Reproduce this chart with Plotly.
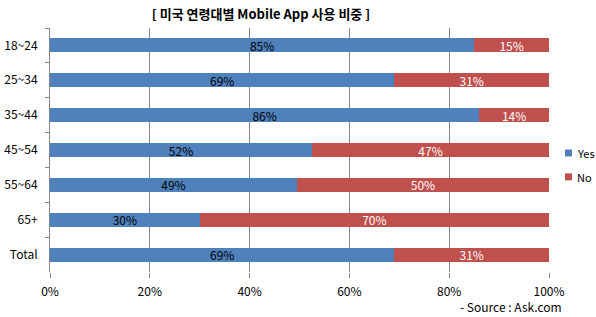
import plotly.graph_objects as go

categories = ["18~24", "25~34", "35~44", "45~54", "55~64", "65+", "Total"]
yes_vals = [85, 69, 86, 52, 49, 30, 69]
no_vals = [15, 31, 14, 47, 50, 70, 31]
series_names = ["Yes", "No"]
x_ticks = [0, 20, 40, 60, 80, 100]
x_tick_labels = ["0%", "20%", "40%", "60%", "80%", "100%"]

FONT = "Noto Sans CJK KR"
BLUE = "#4F81BD"
RED = "#C0504D"
colors = [BLUE, RED]

fig = go.Figure()
fig.add_trace(go.Bar(
    y=categories, x=yes_vals, name=series_names[0], orientation="h",
    marker=dict(color=BLUE, line=dict(width=0)),
    text=[f"{v}%" for v in yes_vals], textposition="inside",
    insidetextanchor="middle", textangle=0,
    textfont=dict(family=FONT, size=12, color="#000000"),
))
fig.add_trace(go.Bar(
    y=categories, x=no_vals, name=series_names[1], orientation="h",
    marker=dict(color=RED, line=dict(width=0)),
    text=[f"{v}%" for v in no_vals], textposition="inside",
    insidetextanchor="middle", textangle=0,
    textfont=dict(family=FONT, size=12, color="#FFFFFF"),
))

# custom compact legend (Excel style): small squares + labels
W, H = 596, 317
shapes = []
annotations = []
legend_y = [153, 177]
for nm, col, yc in zip(series_names, colors, legend_y):
    shapes.append(dict(type="rect", xref="paper", yref="paper",
                       x0=(565 - 50) / 499, x1=(572 - 50) / 499,
                       y0=(272.5 - (yc + 3.5)) / 245, y1=(272.5 - (yc - 3.5)) / 245,
                       fillcolor=col, line=dict(width=0)))
    annotations.append(dict(text=nm, xref="paper", yref="paper",
                            x=(575 - 50) / 499, y=(272.5 - yc) / 245,
                            xanchor="left", yanchor="middle", showarrow=False,
                            font=dict(family=FONT, size=11, color="#000000")))

annotations.append(dict(text="- Source : Ask.com", xref="paper", yref="paper",
                        x=(564 - 50) / 499, y=-(307 - 272.5) / 245,
                        xanchor="right", yanchor="middle", showarrow=False,
                        font=dict(family=FONT, size=12, color="#000000")))

fig.update_layout(
    width=W, height=H,
    margin=dict(l=50, r=47, t=27.5, b=44.5, autoexpand=False),
    barmode="stack", barnorm="percent", bargap=0.6,
    plot_bgcolor="white", paper_bgcolor="white",
    font=dict(family=FONT, size=12, color="#000000"),
    uniformtext=dict(minsize=12, mode="show"),
    title=dict(text="<b>[ 미국 연령대별 Mobile App 사용 비중 ]</b>",
               x=(261 - 50) / 499, xref="paper", xanchor="center",
               y=1 - 14 / 317, yanchor="middle",
               font=dict(family=FONT, size=13, color="#000000")),
    showlegend=False,
    xaxis=dict(range=[0, 100], tickvals=x_ticks, ticktext=x_tick_labels,
               showgrid=True, gridcolor="#868686", gridwidth=1,
               zeroline=False, showline=False,
               ticks="outside", ticklen=5, tickcolor="#868686",
               ticklabelstandoff=4,
               tickfont=dict(family=FONT, size=12)),
    yaxis=dict(autorange="reversed", showline=True, linecolor="#868686",
               linewidth=1, ticks="outside", tickson="boundaries",
               ticklen=4, tickcolor="#868686", showgrid=False,
               ticklabelstandoff=9,
               tickfont=dict(family=FONT, size=12)),
    shapes=shapes,
    annotations=annotations,
)

fig.write_html("out.html")
